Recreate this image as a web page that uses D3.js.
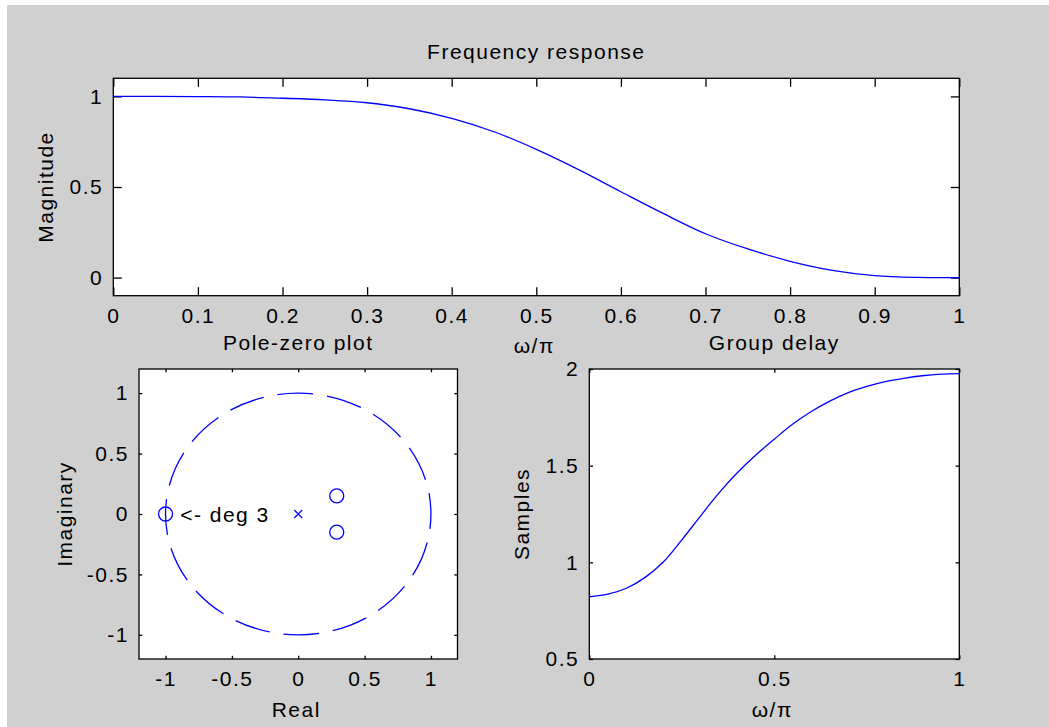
<!DOCTYPE html>
<html lang="en">
<head>
<meta charset="utf-8">
<title>Frequency response</title>
<script type="text/javascript" src="https://cdn.jsdelivr.net/npm/d3@7"></script>
<style>
  body { margin: 0; background: #ffffff; }
  svg text { font-family: "Liberation Sans", Arial, sans-serif; font-size: 21px; letter-spacing: 1.5px; fill: #000; }
</style>
</head>
<body>
<div id="bod"></div>
<script type="text/javascript">
// values
let freq = [0, 0.05, 0.1, 0.15, 0.2, 0.25, 0.3, 0.35, 0.4, 0.45, 0.5,
            0.55, 0.6, 0.65, 0.7, 0.75, 0.8, 0.85, 0.9, 0.95, 1]
let magnitude = [1.000, 1.000, 0.999, 0.997, 0.990, 0.981, 0.965, 0.932, 0.879, 0.805, 0.708,
                 0.596, 0.474, 0.354, 0.242, 0.158, 0.090, 0.040, 0.011, 0.001, 0.000]
let groupDelay = [0.822, 0.835, 0.866, 0.921, 1.002, 1.116, 1.238, 1.358, 1.463, 1.555, 1.637,
                  1.715, 1.780, 1.834, 1.878, 1.910, 1.935, 1.952, 1.965, 1.973, 1.976]

let zerosRe = [-1, 0.29, 0.29]
let zerosIm = [0, 0.15, -0.15]
let polesRe = [0]
let polesIm = [0]

let magXTicks = [0, 0.1, 0.2, 0.3, 0.4, 0.5, 0.6, 0.7, 0.8, 0.9, 1]
let magYTicks = [0, 0.5, 1]
let pzTicks = [-1, -0.5, 0, 0.5, 1]
let gdXTicks = [0, 0.5, 1]
let gdYTicks = [0.5, 1, 1.5, 2]

let w = 1049
let h = 727
let blue = "#0000ff"

let svg = d3.select("#bod")
            .append("svg")
            .attr("width", w)
            .attr("height", h);

svg.append("rect")
   .attr("x", 7).attr("y", 5)
   .attr("width", w - 7).attr("height", h - 5)
   .attr("fill", "#d0d0d0");

// draws a matlab style box with inward ticks on all four sides
function drawBox(x, y, xTicks, yTicks, tick, title, xlabel, ylabel, ylabelGap) {
  let [x0, x1] = x.range()
  let [y1, y0] = y.range()
  let g = svg.append("g")

  g.append("rect")
   .attr("x", x0).attr("y", y0)
   .attr("width", x1 - x0).attr("height", y1 - y0)
   .attr("fill", "#fff");

  let fmt = d => String(d)
  g.append("g").attr("transform", "translate(0," + y1 + ")")
   .call(d3.axisBottom(x).tickValues(xTicks).tickSize(-tick).tickSizeOuter(0).tickPadding(12.5).tickFormat(fmt))
  g.append("g").attr("transform", "translate(0," + y0 + ")")
   .call(d3.axisTop(x).tickValues(xTicks).tickSize(-tick).tickSizeOuter(0).tickFormat(""))
  g.append("g").attr("transform", "translate(" + x0 + ",0)")
   .call(d3.axisLeft(y).tickValues(yTicks).tickSize(-tick).tickSizeOuter(0).tickPadding(10).tickFormat(fmt))
  g.append("g").attr("transform", "translate(" + x1 + ",0)")
   .call(d3.axisRight(y).tickValues(yTicks).tickSize(-tick).tickSizeOuter(0).tickFormat(""))

  g.selectAll(".domain").remove()
  g.selectAll(".tick line").attr("stroke", "#000").attr("stroke-width", 1.3)
  g.selectAll("g").attr("font-size", null).attr("font-family", null)

  g.append("rect")
   .attr("x", x0).attr("y", y0)
   .attr("width", x1 - x0).attr("height", y1 - y0)
   .attr("fill", "none")
   .attr("stroke", "#000")
   .attr("stroke-width", 1.3);

  g.append("text")
   .attr("x", (x0 + x1) / 2).attr("y", y0 - 19.5)
   .attr("text-anchor", "middle")
   .text(title)

  g.append("text")
   .attr("x", (x0 + x1) / 2 - 2).attr("y", y1 + 57.5)
   .attr("text-anchor", "middle")
   .text(xlabel)

  g.append("text")
   .attr("transform", "translate(" + (x0 - ylabelGap) + "," + ((y0 + y1) / 2) + ") rotate(-90)")
   .attr("text-anchor", "middle")
   .text(ylabel)

  return g
}

// frequency response
let xMag = d3.scaleLinear().domain([0, 1]).range([113.3, 959.3])
let yMag = d3.scaleLinear().domain([-0.1, 1.1]).range([295.7, 78.3])
let gMag = drawBox(xMag, yMag, magXTicks, magYTicks, 8.5, "Frequency response", "\u03c9/\u03c0", "Magnitude", 60)

let magLine = d3.line()
                .x((d, i) => xMag(freq[i]))
                .y(d => yMag(d))
                .curve(d3.curveCatmullRom.alpha(0.5))

gMag.append("path")
    .datum(magnitude)
    .attr("d", magLine)
    .attr("fill", "none")
    .attr("stroke", blue)
    .attr("stroke-width", 1.3)

// pole-zero plot
let xPz = d3.scaleLinear().domain([-1.2, 1.2]).range([139, 457.5])
let yPz = d3.scaleLinear().domain([-1.2, 1.2]).range([659, 369])
let gPz = drawBox(xPz, yPz, pzTicks, pzTicks, 3.2, "Pole-zero plot", "Real", "Imaginary", 67)

let circle = gPz.append("ellipse")
    .attr("cx", xPz(0)).attr("cy", yPz(0))
    .attr("rx", xPz(1) - xPz(0)).attr("ry", yPz(0) - yPz(1))
    .attr("fill", "none")
    .attr("stroke", blue)
    .attr("stroke-width", 1.3)

let len = circle.node().getTotalLength()
let period = len / 16
let dash = period * 0.72
circle.attr("stroke-dasharray", dash + " " + (period - dash))
      .attr("stroke-dashoffset", dash / 2 + 3)

gPz.selectAll(".zero")
   .data(zerosRe)
   .enter()
   .append("circle")
   .attr("class", "zero")
   .attr("cx", d => xPz(d))
   .attr("cy", (d, i) => yPz(zerosIm[i]))
   .attr("r", 7)
   .attr("fill", "none")
   .attr("stroke", blue)
   .attr("stroke-width", 1.3)

gPz.selectAll(".pole")
   .data(polesRe)
   .enter()
   .append("path")
   .attr("class", "pole")
   .attr("d", (d, i) => {
     let cx = xPz(d), cy = yPz(polesIm[i]), s = 4
     return "M" + (cx - s) + "," + (cy - s) + "L" + (cx + s) + "," + (cy + s) +
            "M" + (cx - s) + "," + (cy + s) + "L" + (cx + s) + "," + (cy - s)
   })
   .attr("fill", "none")
   .attr("stroke", blue)
   .attr("stroke-width", 1.2)

gPz.append("text")
   .attr("x", xPz(-0.89)).attr("y", yPz(0))
   .attr("dy", "0.36em")
   .text("<- deg 3")

// group delay
let xGd = d3.scaleLinear().domain([0, 1]).range([589.3, 959.3])
let yGd = d3.scaleLinear().domain([0.5, 2]).range([659, 369])
let gGd = drawBox(xGd, yGd, gdXTicks, gdYTicks, 3.7, "Group delay", "\u03c9/\u03c0", "Samples", 60)

let gdLine = d3.line()
               .x((d, i) => xGd(freq[i]))
               .y(d => yGd(d))
               .curve(d3.curveCatmullRom.alpha(0.5))

gGd.append("path")
   .datum(groupDelay)
   .attr("d", gdLine)
   .attr("fill", "none")
   .attr("stroke", blue)
   .attr("stroke-width", 1.3)
</script>
</body>
</html>
